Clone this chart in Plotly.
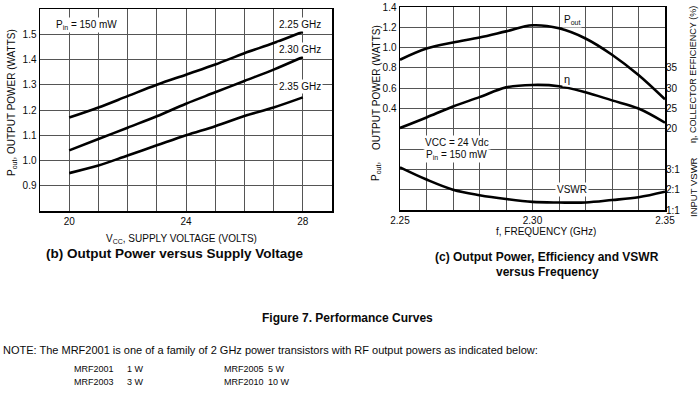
import plotly.graph_objects as go

# ---- Data: (b) Output power vs supply voltage ----
vcc = [20, 21, 22, 23, 24, 25, 26, 27, 28]
pout_225 = [1.17, 1.21, 1.255, 1.30, 1.34, 1.38, 1.425, 1.465, 1.51]
pout_230 = [1.04, 1.085, 1.13, 1.175, 1.225, 1.27, 1.315, 1.36, 1.41]
pout_235 = [0.95, 0.98, 1.02, 1.06, 1.10, 1.136, 1.176, 1.21, 1.25]

# ---- Data: (c) vs frequency ----
freq = [2.25, 2.26, 2.27, 2.28, 2.29, 2.30, 2.31, 2.32, 2.33, 2.34, 2.35]
pout_f = [0.88, 0.99, 1.05, 1.10, 1.16, 1.22, 1.19, 1.09, 0.93, 0.73, 0.49]
eff_f = [20.2, 22.8, 25.5, 27.8, 30.2, 30.8, 30.5, 29.0, 27.0, 25.0, 21.5]
vswr_f = [3.1, 2.5, 2.0, 1.73, 1.54, 1.4, 1.37, 1.37, 1.49, 1.63, 1.9]

# tick labels
b_xticks = [20, 24, 28]
b_yticks = [0.9, 1.0, 1.1, 1.2, 1.3, 1.4, 1.5]
c_xticks = [2.25, 2.30, 2.35]
c_xlabels = ["2.25", "2.30", "2.35"]
c_yticks = [0.4, 0.6, 0.8, 1.0, 1.2, 1.4]
eff_ticks = [20, 25, 30, 35]
vswr_ticks = [1, 2, 3]
vswr_labels = ["1:1", "2:1", "3:1"]

W, H = 700, 393
def px(xp):
    return xp / W
def py(yp):
    return 1 - yp / H

FONT = "Liberation Sans"
INK = "#0a0a0a"
tickfont = dict(family=FONT, size=10, color=INK)
line_style = dict(color="black", width=2.6, shape="spline")
GRID = "#555"

fig = go.Figure()
for ys in (pout_225, pout_230, pout_235):
    fig.add_trace(go.Scatter(x=vcc, y=ys, mode="lines", line=line_style,
                             xaxis="x", yaxis="y", showlegend=False, hoverinfo="skip"))
fig.add_trace(go.Scatter(x=freq, y=pout_f, mode="lines", line=line_style,
                         xaxis="x2", yaxis="y2", showlegend=False, hoverinfo="skip"))
fig.add_trace(go.Scatter(x=freq, y=eff_f, mode="lines", line=line_style,
                         xaxis="x2", yaxis="y3", showlegend=False, hoverinfo="skip"))
fig.add_trace(go.Scatter(x=freq, y=vswr_f, mode="lines", line=line_style,
                         xaxis="x2", yaxis="y4", showlegend=False, hoverinfo="skip"))

def axis(**kw):
    d = dict(showline=True, linecolor="black", linewidth=1.5, mirror=True,
             showgrid=True, gridcolor=GRID, gridwidth=1, zeroline=False,
             ticks="", tickfont=tickfont, fixedrange=True, automargin=False,
             tickmode="array")
    d.update(kw)
    return d

fig.update_layout(
    width=W, height=H,
    margin=dict(l=0, r=0, t=0, b=0, autoexpand=False),
    paper_bgcolor="white", plot_bgcolor="white",
    xaxis=axis(domain=[px(40), px(332)], range=[19, 29], tickvals=b_xticks,
               minor=dict(tick0=19, dtick=1, showgrid=True, gridcolor=GRID, gridwidth=1),
               anchor="y"),
    yaxis=axis(domain=[py(211), py(9)], range=[0.8, 1.6], tickvals=b_yticks,
               ticktext=["%.1f" % v for v in b_yticks],
               minor=dict(tick0=0.8, dtick=0.1, showgrid=True, gridcolor=GRID, gridwidth=1),
               anchor="x"),
    xaxis2=axis(domain=[px(400), px(665)], range=[2.25, 2.35], tickvals=c_xticks,
                ticktext=c_xlabels,
                minor=dict(tick0=2.25, dtick=0.01, showgrid=True, gridcolor=GRID, gridwidth=1),
                anchor="y2"),
    yaxis2=axis(domain=[py(210), py(7)], range=[-0.6, 1.4], tickvals=c_yticks,
                ticktext=["%.1f" % v for v in c_yticks],
                minor=dict(tick0=-0.6, dtick=0.2, showgrid=True, gridcolor=GRID, gridwidth=1),
                anchor="x2"),
    yaxis3=dict(overlaying="y2", side="right", anchor="x2", range=[0, 50],
                showgrid=False, zeroline=False, showline=False, ticks="", automargin=False,
                tickmode="array", tickvals=eff_ticks, tickfont=tickfont, fixedrange=True),
    yaxis4=dict(overlaying="y2", side="right", anchor="x2", range=[1.0, 11.0],
                showgrid=False, zeroline=False, showline=False, ticks="", automargin=False,
                tickmode="array", tickvals=vswr_ticks, ticktext=vswr_labels,
                tickfont=tickfont, fixedrange=True),
)

ann = []
def text(x, y, t, xref="paper", yref="paper", size=10, bold=False, angle=0, bg=None,
         xanchor="center"):
    d = dict(x=x, y=y, xref=xref, yref=yref, text=("<b>%s</b>" % t) if bold else t,
             showarrow=False, textangle=angle, xanchor=xanchor, yanchor="middle",
             font=dict(family=FONT, size=size, color=INK))
    if bg:
        d["bgcolor"] = bg
        d["borderpad"] = 1
    ann.append(d)

# chart (b) labels
text(27.9, 1.54, "2.25 GHz", "x", "y", bg="white")
text(27.9, 1.44, "2.30 GHz", "x", "y", bg="white")
text(27.9, 1.295, "2.35 GHz", "x", "y", bg="white")
text(20.6, 1.535, "P<sub>in</sub> = 150 mW", "x", "y", bg="white")
text(px(12), py(103), "P<sub>out</sub>, OUTPUT POWER (WATTS)", angle=-90)
text(px(181), py(239), "V<sub>CC</sub>, SUPPLY VOLTAGE (VOLTS)")
text(px(175), py(253), "(b) Output Power versus Supply Voltage", size=13.5, bold=True)

# chart (c) labels
text(2.315, 1.27, "P<sub>out</sub>", "x2", "y2", bg="white")
text(2.313, 0.69, "η", "x2", "y2", size=11, bg="white")
text(2.2715, 0.07, "VCC = 24 Vdc", "x2", "y2", bg="white")
text(2.2715, -0.055, "P<sub>in</sub> = 150 mW", "x2", "y2", bg="white")
text(2.315, -0.40, "VSWR", "x2", "y2", bg="white")
text(px(376), py(88), "OUTPUT POWER (WATTS)", angle=-90)
text(px(376), py(172), "P<sub>out</sub>,", angle=-90)
text(px(693), py(75), "η, COLLECTOR EFFICIENCY (%)", size=9, angle=-90)
text(px(693), py(187), "INPUT VSWR", size=9.5, angle=-90)
text(px(546), py(232), "f, FREQUENCY (GHz)")
text(px(547), py(257), "(c) Output Power, Efficiency and VSWR", size=12, bold=True)
text(px(547), py(272), "versus Frequency", size=12, bold=True)

# figure caption and note
text(px(347), py(318), "Figure 7. Performance Curves", size=12, bold=True)
text(px(1), py(350), "NOTE: The MRF2001 is one of a family of 2 GHz power transistors with RF output powers as indicated below:",
     size=11, xanchor="left")
text(px(72), py(369), "MRF2001", size=9, xanchor="left")
text(px(125), py(369), "1 W", size=9, xanchor="left")
text(px(72), py(382), "MRF2003", size=9, xanchor="left")
text(px(125), py(382), "3 W", size=9, xanchor="left")
text(px(222), py(369), "MRF2005", size=9, xanchor="left")
text(px(266), py(369), "5 W", size=9, xanchor="left")
text(px(222), py(382), "MRF2010", size=9, xanchor="left")
text(px(266), py(382), "10 W", size=9, xanchor="left")

fig.update_layout(annotations=ann)
# remove the browser's default 8px body margin so the 700x393 figure fills the window
fig.write_html("out.html", config={"displayModeBar": False, "staticPlot": True},
               post_script="document.body.style.margin='0px';document.body.style.overflow='hidden';")
